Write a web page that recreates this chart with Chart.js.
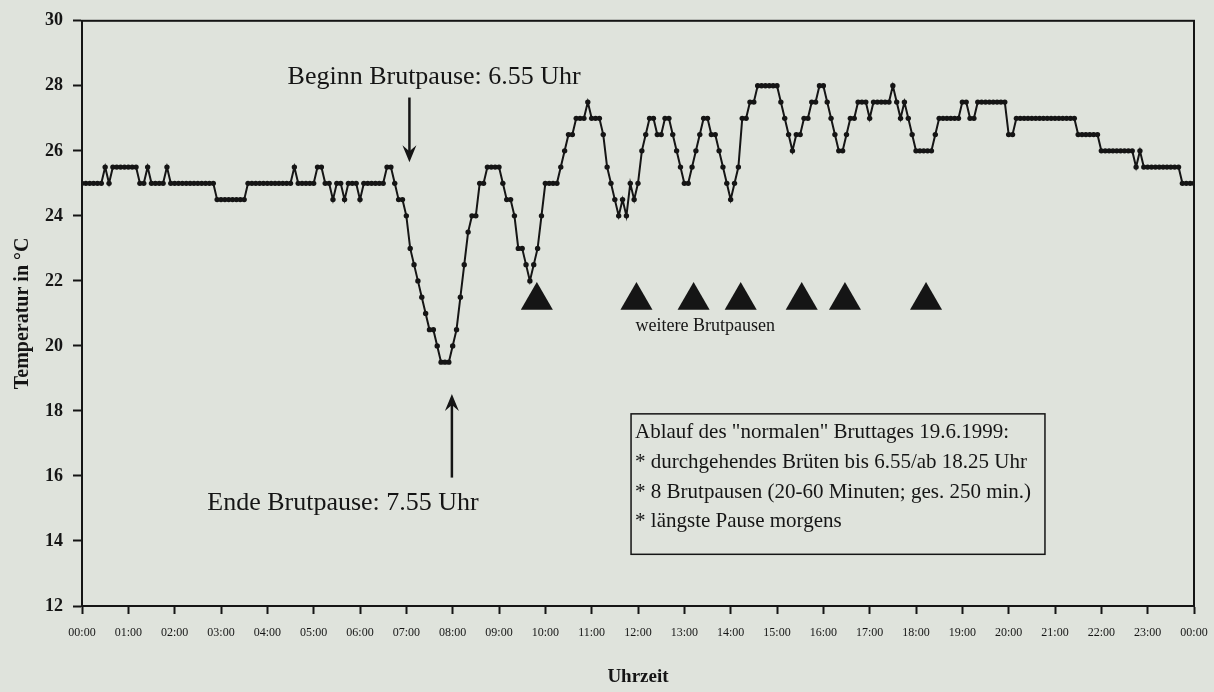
<!DOCTYPE html>
<html>
<head>
<meta charset="utf-8">
<script src="https://cdn.jsdelivr.net/npm/chart.js@4.4.0/dist/chart.umd.min.js"></script>
<style>
  html, body { margin: 0; padding: 0; background: #dfe3dc; }
  canvas { display: block; }
</style>
</head>
<body>
<canvas id="myChart" width="1214" height="692"></canvas>
<script>
// readings every 5 minutes, 00:00 .. 24:00 (one row per hour)
const stepMinutes = 5;
const temperatures = [
  25, 25, 25, 25, 25, 25, 25.5, 25, 25.5, 25.5, 25.5, 25.5,          // 00
  25.5, 25.5, 25.5, 25, 25, 25.5, 25, 25, 25, 25, 25.5, 25,          // 01
  25, 25, 25, 25, 25, 25, 25, 25, 25, 25, 25, 24.5,                  // 02
  24.5, 24.5, 24.5, 24.5, 24.5, 24.5, 24.5, 25, 25, 25, 25, 25,      // 03
  25, 25, 25, 25, 25, 25, 25, 25.5, 25, 25, 25, 25,                  // 04
  25, 25.5, 25.5, 25, 25, 24.5, 25, 25, 24.5, 25, 25, 25,            // 05
  24.5, 25, 25, 25, 25, 25, 25, 25.5, 25.5, 25, 24.5, 24.5,          // 06
  24, 23, 22.5, 22, 21.5, 21, 20.5, 20.5, 20, 19.5, 19.5, 19.5,      // 07
  20, 20.5, 21.5, 22.5, 23.5, 24, 24, 25, 25, 25.5, 25.5, 25.5,      // 08
  25.5, 25, 24.5, 24.5, 24, 23, 23, 22.5, 22, 22.5, 23, 24,          // 09
  25, 25, 25, 25, 25.5, 26, 26.5, 26.5, 27, 27, 27, 27.5,            // 10
  27, 27, 27, 26.5, 25.5, 25, 24.5, 24, 24.5, 24, 25, 24.5,          // 11
  25, 26, 26.5, 27, 27, 26.5, 26.5, 27, 27, 26.5, 26, 25.5,          // 12
  25, 25, 25.5, 26, 26.5, 27, 27, 26.5, 26.5, 26, 25.5, 25,          // 13
  24.5, 25, 25.5, 27, 27, 27.5, 27.5, 28, 28, 28, 28, 28,            // 14
  28, 27.5, 27, 26.5, 26, 26.5, 26.5, 27, 27, 27.5, 27.5, 28,        // 15
  28, 27.5, 27, 26.5, 26, 26, 26.5, 27, 27, 27.5, 27.5, 27.5,        // 16
  27, 27.5, 27.5, 27.5, 27.5, 27.5, 28, 27.5, 27, 27.5, 27, 26.5,    // 17
  26, 26, 26, 26, 26, 26.5, 27, 27, 27, 27, 27, 27,                  // 18
  27.5, 27.5, 27, 27, 27.5, 27.5, 27.5, 27.5, 27.5, 27.5, 27.5, 27.5,// 19
  26.5, 26.5, 27, 27, 27, 27, 27, 27, 27, 27, 27, 27,                // 20
  27, 27, 27, 27, 27, 27, 26.5, 26.5, 26.5, 26.5, 26.5, 26.5,        // 21
  26, 26, 26, 26, 26, 26, 26, 26, 26, 25.5, 26, 25.5,                // 22
  25.5, 25.5, 25.5, 25.5, 25.5, 25.5, 25.5, 25.5, 25.5, 25, 25, 25,  // 23
  25                                                                 // 24
];

// further breeding pauses (minutes after midnight), marked with triangles
const pauseTimes = [589, 718, 792, 853, 932, 988, 1093];
const pauseMarkLevel = [21.4, 21.4, 21.4, 21.4, 21.4, 21.4, 21.4];

const yTicks = [12, 14, 16, 18, 20, 22, 24, 26, 28, 30];
const hourLabels = ["00:00","01:00","02:00","03:00","04:00","05:00","06:00","07:00","08:00",
  "09:00","10:00","11:00","12:00","13:00","14:00","15:00","16:00","17:00","18:00","19:00",
  "20:00","21:00","22:00","23:00","00:00"];

const beginText = "Beginn Brutpause: 6.55 Uhr";
const endText = "Ende Brutpause: 7.55 Uhr";
const moreText = "weitere Brutpausen";
const boxLines = [
  'Ablauf des "normalen" Bruttages 19.6.1999:',
  '* durchgehendes Brüten bis 6.55/ab 18.25 Uhr',
  '* 8 Brutpausen (20-60 Minuten; ges. 250 min.)',
  '* längste Pause morgens'
];

const ink = '#151515';
const serif = "'Liberation Serif', 'DejaVu Serif', serif";

let linePoints = [];
for (let i = 0; i < temperatures.length; i++) {
  linePoints.push({x: i * stepMinutes, y: temperatures[i]});
}
let pausePoints = [];
for (let i = 0; i < pauseTimes.length; i++) {
  pausePoints.push({x: pauseTimes[i], y: pauseMarkLevel[i]});
}

function drawArrow(ctx, x, yTail, yTip) {
  const dir = yTip > yTail ? 1 : -1;
  ctx.save();
  ctx.strokeStyle = ink;
  ctx.fillStyle = ink;
  ctx.lineWidth = 2.5;
  ctx.beginPath();
  ctx.moveTo(x, yTail);
  ctx.lineTo(x, yTip - dir * 10);
  ctx.stroke();
  ctx.beginPath();
  ctx.moveTo(x, yTip);
  ctx.lineTo(x - 7, yTip - dir * 17);
  ctx.lineTo(x, yTip - dir * 11);
  ctx.lineTo(x + 7, yTip - dir * 17);
  ctx.closePath();
  ctx.fill();
  ctx.restore();
}

// frame, arrows and text notes, placed in data units
const notesPlugin = {
  id: 'notes',
  afterDatasetsDraw(chart) {
    const ctx = chart.ctx;
    const xs = chart.scales.x, ys = chart.scales.y;
    const area = chart.chartArea;
    const px = v => xs.getPixelForValue(v);
    const py = v => ys.getPixelForValue(v);

    ctx.save();
    ctx.strokeStyle = ink;
    ctx.lineWidth = 2;
    ctx.strokeRect(area.left, area.top, area.right - area.left, area.bottom - area.top);

    ctx.fillStyle = ink;
    ctx.textAlign = 'center';
    ctx.textBaseline = 'middle';
    ctx.font = '26px ' + serif;
    ctx.fillText(beginText, px(456), py(28.26));
    ctx.fillText(endText, px(338), py(15.16));
    ctx.font = '18px ' + serif;
    ctx.fillText(moreText, px(807), py(20.6));

    drawArrow(ctx, px(424), py(27.64), py(25.65));
    drawArrow(ctx, px(479), py(15.95), py(18.52));

    const bx0 = px(711), bx1 = px(1247), by0 = py(17.91), by1 = py(13.59);
    ctx.lineWidth = 1.5;
    ctx.strokeRect(bx0, by0, bx1 - bx0, by1 - by0);
    ctx.textAlign = 'left';
    ctx.font = '21px ' + serif;
    const lineY = [17.33, 16.41, 15.49, 14.6];
    for (let i = 0; i < boxLines.length; i++) {
      ctx.fillText(boxLines[i], bx0 + 4, py(lineY[i]));
    }
    ctx.restore();
  }
};

const data = {
  datasets: [
    {
      label: 'Temperatur',
      data: linePoints,
      borderColor: ink,
      backgroundColor: ink,
      borderWidth: 2,
      pointRadius: 2.7,
      pointBorderWidth: 0,
      pointBackgroundColor: ink,
      tension: 0,
      order: 2
    },
    {
      label: 'Brutpausen',
      type: 'scatter',
      data: pausePoints,
      pointStyle: 'triangle',
      pointRadius: 18.5,
      pointBorderWidth: 0,
      pointBackgroundColor: ink,
      showLine: false,
      order: 1
    }
  ]
};

const config = {
  type: 'line',
  data: data,
  options: {
    responsive: false,
    animation: false,
    devicePixelRatio: 1,
    layout: { padding: { top: 18, right: 20, left: 0, bottom: 0 } },
    plugins: {
      legend: { display: false },
      tooltip: { enabled: false },
      title: { display: false }
    },
    scales: {
      x: {
        type: 'linear',
        min: 0,
        max: 1440,
        afterFit: scale => {
          scale.height = 86;
          scale.paddingLeft = 0;
          scale.paddingRight = 0;
        },
        afterBuildTicks: scale => {
          scale.ticks = hourLabels.map((l, i) => ({ value: i * 60 }));
        },
        ticks: {
          autoSkip: false,
          maxRotation: 0,
          padding: 12,
          color: ink,
          font: { family: serif, size: 12 },
          callback: (v) => hourLabels[Math.round(v / 60)]
        },
        grid: { drawOnChartArea: false, drawTicks: true, tickLength: 8, tickWidth: 2, tickColor: ink },
        border: { display: true, color: ink, width: 2 },
        title: {
          display: true,
          text: 'Uhrzeit',
          color: ink,
          font: { family: serif, size: 19, weight: 'bold' },
          padding: { top: 0, bottom: 4 }
        }
      },
      y: {
        min: 12,
        max: 30,
        afterFit: scale => { scale.width = 82; },
        afterBuildTicks: scale => {
          scale.ticks = yTicks.map(v => ({ value: v }));
        },
        ticks: {
          padding: 10,
          color: ink,
          font: { family: serif, size: 18, weight: 'bold' }
        },
        grid: { drawOnChartArea: false, drawTicks: true, tickLength: 9, tickWidth: 2, tickColor: ink },
        border: { display: true, color: ink, width: 2 },
        title: {
          display: true,
          text: 'Temperatur in °C',
          color: ink,
          font: { family: serif, size: 20, weight: 'bold' },
          padding: { top: 11, bottom: 0 }
        }
      }
    }
  },
  plugins: [notesPlugin]
};

const myChart = new Chart(document.getElementById('myChart'), config);
</script>
</body>
</html>
